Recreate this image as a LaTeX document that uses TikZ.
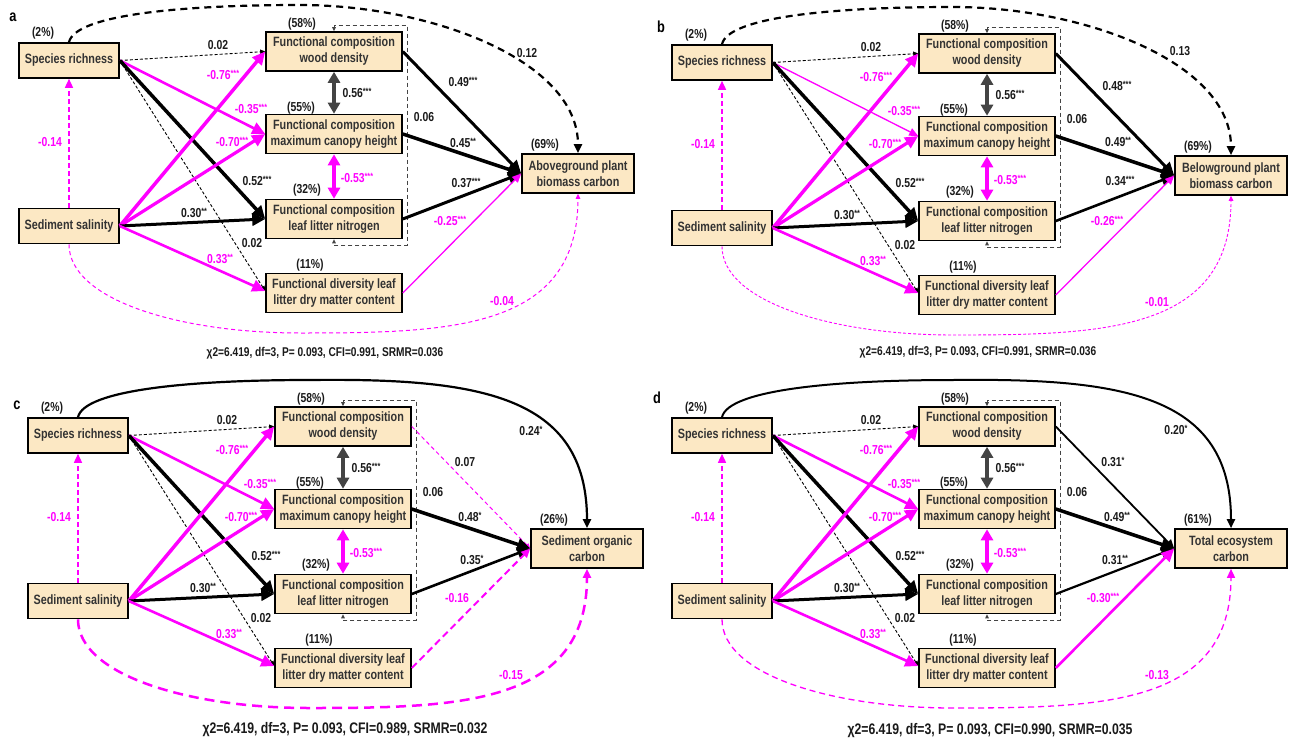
\documentclass[tikz,border=0pt]{standalone}
\usepackage{fontspec}
\setmainfont[FakeStretch=0.8]{Liberation Sans}
\usetikzlibrary{arrows.meta}
\definecolor{mag}{HTML}{FF00FF}
\definecolor{boxfill}{HTML}{FCE8C4}
\definecolor{txt}{HTML}{333333}
\definecolor{lbl}{HTML}{1A1A1A}
\definecolor{dgray}{HTML}{444444}
\newcommand\boxfont{\fontsize{13.5}{16}\selectfont\bfseries}
\newcommand\lblfont{\fontsize{13}{15}\selectfont\bfseries}
\newcommand\chismall{\fontsize{12.7}{15}\selectfont\bfseries}
\newcommand\chibig{\fontsize{15.3}{17}\selectfont\bfseries}
\newcommand\st[1]{\raisebox{3.5pt}{\fontsize{9}{9}\selectfont #1}}
\tikzset{
 box/.style={draw=black, line width=1.6pt, fill=boxfill, text=txt, font=\boxfont, align=center, inner sep=0pt},
 srbox/.style={box, minimum width=100pt, minimum height=35pt},
 fcbox/.style={box, minimum width=136pt, minimum height=39pt},
 tgbox/.style={box, minimum width=112pt, minimum height=39pt},
 lab/.style={font=\lblfont, text=lbl, inner sep=0pt},
 mlab/.style={font=\lblfont, text=mag, inner sep=0pt},
 bigtip/.style={-{Triangle[length=13pt,width=12pt]}},
 medtip/.style={-{Triangle[length=9pt,width=8pt]}},
 smalltip/.style={-{Triangle[length=5pt,width=4.5pt]}},
 thindash/.style={black, line width=0.9pt, dash pattern=on 3pt off 2pt, smalltip},
 panlet/.style={font=\fontsize{16}{18}\selectfont\bfseries, text=black, inner sep=0pt},
}
\newcommand\mkpanel[4]{%
 \node[srbox] (#1sr) at (69,60.5) {Species richness};
 \node[srbox] (#1ss) at (69,226) {Sediment salinity};
 \node[fcbox] (#1wd) at (334,51.5) {Functional composition\\wood density};
 \node[fcbox] (#1ch) at (334,134) {Functional composition\\maximum canopy height};
 \node[fcbox] (#1ln) at (334,219) {Functional composition\\leaf litter nitrogen};
 \node[fcbox] (#1fd) at (334,293) {Functional diversity leaf\\litter dry matter content};
 \node[tgbox] (#1tg) at (578,173.5) {#3};
 \node[lab] (#1psr) at (43,33) {(2\%)};
 \node[lab] (#1pwd) at (302,24) {(58\%)};
 \node[lab] (#1pch) at (301,108) {(55\%)};
 \node[lab] (#1pln) at (307,190) {(32\%)};
 \node[lab] (#1pfd) at (310,265) {(11\%)};
 \node[lab] (#1ptg) at (545,145) {(#4\%)};
 \draw[thindash] (#1sr.east) -- (#1wd.west);
 \draw[mag, #2] (#1sr.east) -- (#1ch.west);
 \draw[black, line width=3.5pt, bigtip] (#1sr.east) -- (#1ln.west);
 \draw[thindash] (#1sr.east) -- ([yshift=2pt]#1fd.west);
 \draw[mag, line width=3.5pt, bigtip] (#1ss.east) -- (#1wd.west);
 \draw[mag, line width=3.2pt, bigtip] (#1ss.east) -- (#1ch.west);
 \draw[black, line width=3pt, bigtip] (#1ss.east) -- (#1ln.west);
 \draw[mag, line width=2.6pt, bigtip] (#1ss.east) -- ([yshift=2pt]#1fd.west);
 \draw[mag, line width=1.5pt, dash pattern=on 5pt off 3pt, medtip] (#1ss.north) -- (#1sr.south);
 \draw[dgray, line width=4pt, {Triangle[length=11pt,width=12pt]}-{Triangle[length=11pt,width=12pt]}] (#1wd.south) -- (#1ch.north);
 \draw[mag, line width=4pt, {Triangle[length=11pt,width=12pt]}-{Triangle[length=11pt,width=12pt]}] (#1ch.south) -- (#1ln.north);
 \coordinate (#1k1) at (334,25);
 \coordinate (#1k2) at (407,25);
 \coordinate (#1k3) at (407,245);
 \coordinate (#1k4) at (334,245);
 \draw[dgray, line width=1pt, dash pattern=on 4pt off 3pt, {Triangle[length=4pt,width=3.5pt]}-{Triangle[length=4pt,width=3.5pt]}] (#1wd.north) -- (#1k1) -- (#1k2) -- (#1k3) -- (#1k4) -- (#1ln.south);
 \node[lab] (#1l1) at (218,45) {0.02};
 \node[mlab] (#1l2) at (223,75) {-0.76\st{***}};
 \node[mlab] (#1l3) at (251,109) {-0.35\st{***}};
 \node[mlab] (#1l4) at (232,142) {-0.70\st{***}};
 \node[lab] (#1l5) at (257,181) {0.52\st{***}};
 \node[lab] (#1l6) at (194,213) {0.30\st{**}};
 \node[lab] (#1l7) at (252,243) {0.02};
 \node[mlab] (#1l8) at (220,259) {0.33\st{**}};
 \node[mlab] (#1l9) at (50,142) {-0.14};
 \node[lab] (#1l10) at (357,93) {0.56\st{***}};
 \node[mlab] (#1l11) at (357,178) {-0.53\st{***}};
 \node[lab] (#1l12) at (424,117) {0.06};
}
% #1 prefix, #2 style, #3 #4 second-segment controls
\newcommand\topcurve[4]{\draw[#2] (#1sr.north) .. controls (75,15) and (180,5) .. (300,5) .. controls #3 and #4 .. (#1tg.north);}
\newcommand\botcurve[2]{\draw[#2] (#1ss.south) .. controls (69,300) and (180,333) .. (300,333) .. controls (450,333) and (578,330) .. (#1tg.south);}
\begin{document}
\begin{tikzpicture}[x=1pt,y=-1pt]
\useasboundingbox (0,0) rectangle (1289,744);
\fill[white] (0,0) rectangle (1289,744);
% panel a
\node[panlet] (leta) at (13,17) {a};
\begin{scope}
\mkpanel{a}{line width=2.6pt, bigtip}{Aboveground plant\\biomass carbon}{69}
\draw[black, line width=3pt, bigtip] (awd.east) -- (atg.west);
\draw[black, line width=3.5pt, bigtip] (ach.east) -- (atg.west);
\draw[black, line width=3pt, bigtip] (aln.east) -- (atg.west);
\draw[mag, line width=1.3pt, medtip] (afd.east) -- (atg.west);
\topcurve{a}{black, line width=2.2pt, dash pattern=on 7pt off 5pt, medtip}{(430,5)}{(578,60)}
\botcurve{a}{mag, line width=1pt, dash pattern=on 4pt off 3pt, smalltip}
\node[lab] (am1) at (463,82) {0.49\st{***}};
\node[lab] (am2) at (463,143) {0.45\st{**}};
\node[lab] (am3) at (466,183) {0.37\st{***}};
\node[mlab] (am4) at (450,221) {-0.25\st{***}};
\node[lab] (am5) at (527,53) {0.12};
\node[mlab] (am6) at (502,301) {-0.04};
\end{scope}
\node[font=\chismall, text=lbl] (achi) at (325,353) {χ2=6.419, df=3, P= 0.093, CFI=0.991, SRMR=0.036};
% panel b
\node[panlet] (letb) at (661,27) {b};
\begin{scope}[shift={(653,2)}]
\mkpanel{b}{line width=1.3pt, medtip}{Belowground plant\\biomass carbon}{69}
\draw[black, line width=3pt, bigtip] (bwd.east) -- (btg.west);
\draw[black, line width=3.5pt, bigtip] (bch.east) -- (btg.west);
\draw[black, line width=2.6pt, bigtip] (bln.east) -- (btg.west);
\draw[mag, line width=1.3pt, medtip] (bfd.east) -- (btg.west);
\topcurve{b}{black, line width=2.2pt, dash pattern=on 7pt off 5pt, medtip}{(430,5)}{(578,60)}
\botcurve{b}{mag, line width=0.9pt, dash pattern=on 3pt off 2pt, smalltip}
\node[lab] (bm1) at (464,84) {0.48\st{***}};
\node[lab] (bm2) at (465,140) {0.49\st{**}};
\node[lab] (bm3) at (467,179) {0.34\st{***}};
\node[mlab] (bm4) at (454,219) {-0.26\st{***}};
\node[lab] (bm5) at (527,49) {0.13};
\node[mlab] (bm6) at (504,300) {-0.01};
\end{scope}
\node[font=\chismall, text=lbl] (bchi) at (978,352) {χ2=6.419, df=3, P= 0.093, CFI=0.991, SRMR=0.036};
% panel c
\node[panlet] (letc) at (17,405) {c};
\begin{scope}[shift={(9,375)}]
\mkpanel{c}{line width=2.6pt, bigtip}{Sediment organic\\carbon}{26}
\draw[mag, line width=1pt, dash pattern=on 4pt off 3pt, smalltip] (cwd.east) -- (ctg.west);
\draw[black, line width=3.5pt, bigtip] (cch.east) -- (ctg.west);
\draw[black, line width=2.6pt, bigtip] (cln.east) -- (ctg.west);
\draw[mag, line width=2pt, dash pattern=on 7pt off 4pt, medtip] (cfd.east) -- (ctg.west);
\topcurve{c}{black, line width=2.2pt, medtip}{(470,3)}{(578,20)}
\botcurve{c}{mag, line width=2.5pt, dash pattern=on 10pt off 6pt, medtip}
\node[lab] (cm1) at (456,87) {0.07};
\node[lab] (cm2) at (461,142) {0.48\st{*}};
\node[lab] (cm3) at (463,185) {0.35\st{*}};
\node[mlab] (cm4) at (448,223) {-0.16};
\node[lab] (cm5) at (522,56) {0.24\st{*}};
\node[mlab] (cm6) at (502,300) {-0.15};
\end{scope}
\node[font=\chibig, text=lbl] (cchi) at (345,730) {χ2=6.419, df=3, P= 0.093, CFI=0.989, SRMR=0.032};
% panel d
\node[panlet] (letd) at (657,398) {d};
\begin{scope}[shift={(653,375)}]
\mkpanel{d}{line width=2.6pt, bigtip}{Total ecosystem\\carbon}{61}
\draw[black, line width=1.8pt, medtip] (dwd.east) -- (dtg.west);
\draw[black, line width=3.5pt, bigtip] (dch.east) -- (dtg.west);
\draw[black, line width=2.2pt, bigtip] (dln.east) -- (dtg.west);
\draw[mag, line width=2.6pt, bigtip] (dfd.east) -- (dtg.west);
\topcurve{d}{black, line width=2pt, medtip}{(470,3)}{(578,20)}
\botcurve{d}{mag, line width=1.3pt, dash pattern=on 6pt off 4pt, medtip}
\node[lab] (dm1) at (460,87) {0.31\st{*}};
\node[lab] (dm2) at (464,142) {0.49\st{**}};
\node[lab] (dm3) at (462,185) {0.31\st{**}};
\node[mlab] (dm4) at (450,223) {-0.30\st{***}};
\node[lab] (dm5) at (523,55) {0.20\st{*}};
\node[mlab] (dm6) at (504,300) {-0.13};
\end{scope}
\node[font=\chibig, text=lbl] (dchi) at (990,731) {χ2=6.419, df=3, P= 0.093, CFI=0.990, SRMR=0.035};
\end{tikzpicture}
\end{document}
